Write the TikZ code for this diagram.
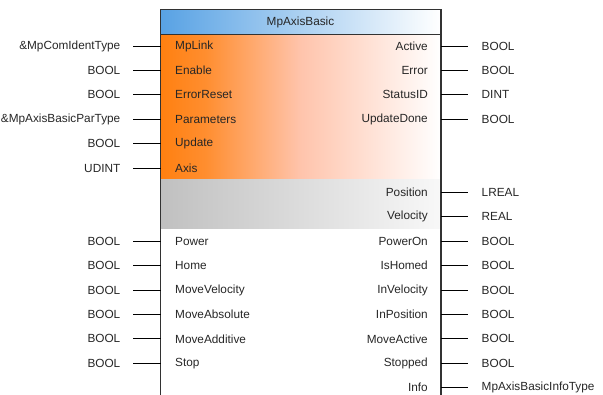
\documentclass[tikz,border=0pt]{standalone}
\usepackage{fontspec}
\setmainfont{Liberation Sans}
\definecolor{bluetop}{RGB}{88,162,228}
\definecolor{orangeL}{RGB}{255,128,16}
\definecolor{orangeM}{RGB}{255,196,172}
\definecolor{grayL}{RGB}{192,192,192}
\definecolor{grayR}{RGB}{248,248,248}
\definecolor{edge}{RGB}{50,50,50}
\pgfdeclarehorizontalshading{orangeshade}{100bp}{color(0bp)=(orangeL); color(25bp)=(orangeL); color(33bp)=(orangeL!80!orangeM); color(50bp)=(orangeM); color(75bp)=(white); color(100bp)=(white)}
\tikzset{
  pin/.style={font=\fontsize{11.8}{13}\selectfont, inner sep=0pt, text=black!85},
  inpin/.style={pin, anchor=west},
  outpin/.style={pin, anchor=east},
  intype/.style={pin, anchor=east},
  outtype/.style={pin, anchor=west},
  wire/.style={draw=black, line width=0.9pt},
  border/.style={draw=edge, line width=1.2pt}
}
\begin{document}
\begin{tikzpicture}[x=1pt,y=-1pt]
\useasboundingbox (0,0) rectangle (603,394);
% regions
\shade[left color=bluetop, right color=white] (160.5,9.5) rectangle (440.5,34);
\shade[shading=orangeshade] (160.5,34) rectangle (440.5,179.5);
\shade[left color=grayL, right color=grayR] (160.5,179.5) rectangle (440.5,228.5);
\node[draw=none, minimum width=280pt, minimum height=385pt, anchor=north west, inner sep=0pt] (block) at (160.5,9.5) {};
\draw[border] (block.south west) -- (block.north west) -- (block.north east) -- (block.south east);
\draw[draw=edge, line width=1pt] (160.5,34) -- (440.5,34);
\node[pin] (title) at (300.5,22) {MpAxisBasic};
% inputs
\foreach \i/\pn/\ty in {0/MpLink/\&MpComIdentType, 1/Enable/BOOL, 2/ErrorReset/BOOL, 3/Parameters/\&MpAxisBasicParType, 4/Update/BOOL, 5/Axis/UDINT, 8/Power/BOOL, 9/Home/BOOL, 10/MoveVelocity/BOOL, 11/MoveAbsolute/BOOL, 12/MoveAdditive/BOOL, 13/Stop/BOOL} {
  \pgfmathsetmacro{\yy}{46+24.4*\i}
  \node[inpin] (ip\i) at (175,\yy) {\pn};
  \node[intype] (it\i) at (120.5,\yy) {\ty};
  \coordinate (il\i) at (133,\yy);
  \draw[wire] (il\i) -- (block.west |- il\i);
}
% outputs
\foreach \i/\pn/\ty in {0/Active/BOOL, 1/Error/BOOL, 2/StatusID/DINT, 3/UpdateDone/BOOL, 6/Position/LREAL, 7/Velocity/REAL, 8/PowerOn/BOOL, 9/IsHomed/BOOL, 10/InVelocity/BOOL, 11/InPosition/BOOL, 12/MoveActive/BOOL, 13/Stopped/BOOL, 14/Info/MpAxisBasicInfoType} {
  \pgfmathsetmacro{\yy}{46+24.4*\i}
  \node[outpin] (op\i) at (428,\yy) {\pn};
  \node[outtype] (ot\i) at (481.5,\yy) {\ty};
  \coordinate (ol\i) at (468,\yy);
  \draw[wire] (block.east |- ol\i) -- (ol\i);
}
\end{tikzpicture}
\end{document}
